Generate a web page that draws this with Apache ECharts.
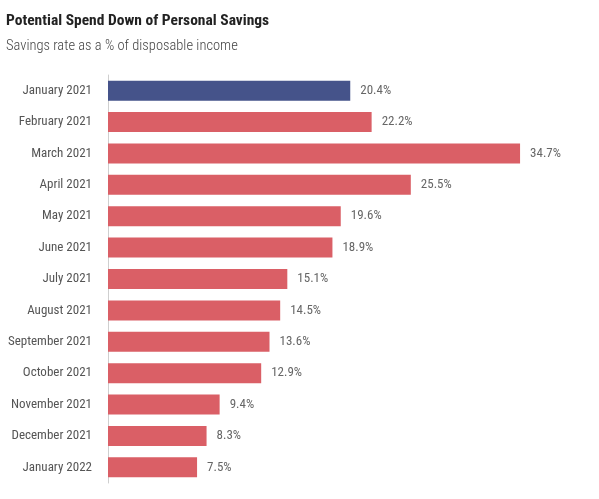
<!DOCTYPE html>
<html>
<head>
<meta charset="utf-8">
<script src="https://cdn.jsdelivr.net/npm/echarts@6/dist/echarts.min.js"></script>
<style>
  html, body { margin: 0; padding: 0; background: #fff; }
  #main { width: 599px; height: 499px; }
</style>
</head>
<body>
<div id="main"></div>
<script>
var months = ['January 2021', 'February 2021', 'March 2021', 'April 2021', 'May 2021', 'June 2021',
  'July 2021', 'August 2021', 'September 2021', 'October 2021', 'November 2021', 'December 2021', 'January 2022'];
var savingsRate = [20.4, 22.2, 34.7, 25.5, 19.6, 18.9, 15.1, 14.5, 13.6, 12.9, 9.4, 8.3, 7.5];

var FONT = '"Roboto Condensed", "Roboto", sans-serif';
var NAVY = '#45538a';
var RED = '#da5f66';

var myChart = echarts.init(document.getElementById('main'));

// first month highlighted in navy, the rest red
var barData = [];
for (var i = 0; i < savingsRate.length; i++) {
  barData.push({
    value: savingsRate[i],
    itemStyle: { color: i === 0 ? NAVY : RED }
  });
}

var option = {
  animation: false,
  title: {
    text: 'Potential Spend Down of Personal Savings',
    subtext: 'Savings rate as a % of disposable income',
    left: 1,
    top: 8,
    itemGap: 10,
    textStyle: { fontFamily: FONT, fontSize: 15.5, fontWeight: 'bold', color: '#222' },
    subtextStyle: { fontFamily: FONT, fontSize: 14.5, fontWeight: 300, color: '#444' }
  },
  grid: { left: 108, right: 16, top: 75, bottom: 16, containLabel: false, outerBoundsMode: 'none' },
  xAxis: {
    type: 'value',
    min: 0,
    max: 40,
    show: false
  },
  yAxis: {
    type: 'category',
    inverse: true,
    data: months,
    axisLine: { show: true, lineStyle: { color: '#cfcfcf', width: 1 } },
    axisTick: { show: false },
    axisLabel: { margin: 16, fontFamily: FONT, fontSize: 13, color: '#555' }
  },
  series: [
    {
      type: 'bar',
      data: barData,
      barWidth: 20,
      label: {
        show: true,
        position: 'right',
        distance: 10,
        formatter: '{c}%',
        fontFamily: FONT,
        fontSize: 13,
        color: '#666'
      }
    }
  ]
};
myChart.setOption(option);
</script>
</body>
</html>
